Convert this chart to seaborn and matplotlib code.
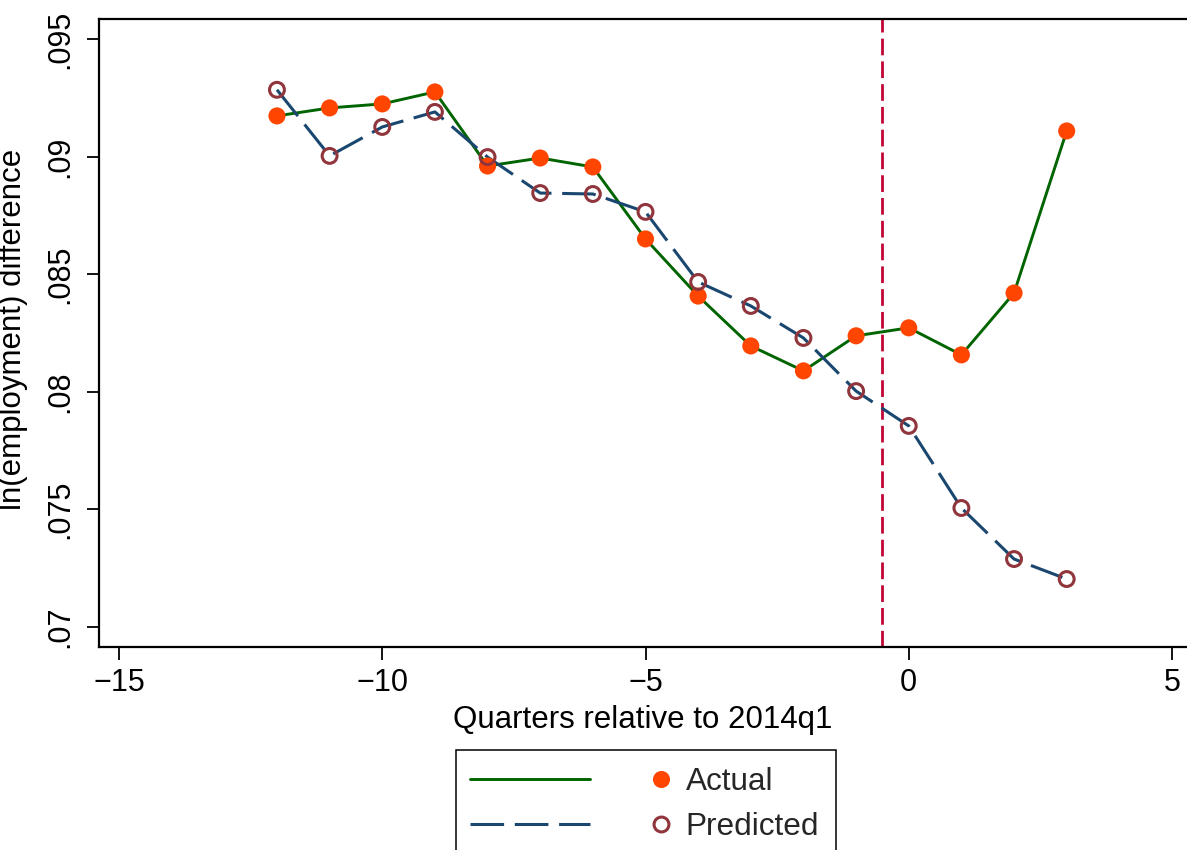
import numpy as np
import pandas as pd
import matplotlib
matplotlib.use("Agg")
import matplotlib.pyplot as plt
import seaborn as sns
from matplotlib.lines import Line2D
from matplotlib.patches import Rectangle

# quarters relative to 2014q1
quarters = [-12, -11, -10, -9, -8, -7, -6, -5, -4, -3, -2, -1, 0, 1, 2, 3]
actual = [0.09173, 0.09207, 0.09224, 0.09275, 0.08960, 0.08994, 0.08956, 0.08650,
          0.08407, 0.08195, 0.08089, 0.08238, 0.08272, 0.08157, 0.08420, 0.09109]
predicted = [0.09284, 0.09003, 0.09126, 0.09190, 0.08998, 0.08845, 0.08841, 0.08765,
             0.08467, 0.08365, 0.08229, 0.08003, 0.07855, 0.07506, 0.07289, 0.07204]
xticks = [-15, -10, -5, 0, 5]
yticks = [0.07, 0.075, 0.08, 0.085, 0.09, 0.095]
ytick_labels = [".07", ".075", ".08", ".085", ".09", ".095"]
cutoff = -0.5

df = pd.DataFrame({"q": quarters, "actual": actual, "predicted": predicted})

sns.set_theme(style="white")
plt.rcParams["font.family"] = ["Liberation Sans", "DejaVu Sans"]

green = "#006400"
navy = "#1a476f"
orange = "#ff4500"
maroon = "#90353b"
cranberry = "#c10534"

W, H = 1187, 850
fig = plt.figure(figsize=(W / 100, H / 100), dpi=100)
ax = fig.add_axes([99 / W, 1 - 647 / H, 1 - 99 / W, (647 - 19) / H])

sns.lineplot(data=df, x="q", y="actual", ax=ax, color=green, lw=2.1, zorder=2)
sns.lineplot(data=df, x="q", y="predicted", ax=ax, color=navy, lw=2.2, zorder=2)
ax.lines[-1].set_dashes([11, 3.5])
ax.scatter(df["q"], df["actual"], s=12.3 ** 2, color=orange, edgecolor="none", zorder=3)
ax.scatter(df["q"], df["predicted"], s=10.7 ** 2, facecolor="none",
           edgecolor=maroon, linewidth=2.2, zorder=4)

ax.axvline(cutoff, color=cranberry, lw=2, dashes=[6, 2.2], zorder=1)

ax.set_xlim(-15.38, 5.285)
ax.set_ylim(0.06915, 0.09585)
ax.set_xticks(xticks)
ax.set_xticklabels(["\u221215", "\u221210", "\u22125", "0", "5"])
ax.set_yticks(yticks)
ax.set_yticklabels(ytick_labels, rotation=90, va="center")

for s in ["left", "bottom", "top"]:
    ax.spines[s].set_color("black")
    ax.spines[s].set_linewidth(1.6)
ax.spines["right"].set_visible(False)

ax.tick_params(axis="both", which="major", length=9, width=1.3, color="black",
               labelsize=22, labelcolor="black", direction="out")
ax.tick_params(axis="x", pad=6)
ax.tick_params(axis="y", pad=8)
ax.tick_params(bottom=True, left=True)

ax.set_xlabel("Quarters relative to 2014q1", fontsize=22.5, color="black")
ax.set_ylabel("ln(employment) difference", fontsize=22.5, color="black")
ax.xaxis.set_label_coords(0.5, -0.092)
ax.yaxis.set_label_coords(-0.065, 0.505)

# legend: line keys in one column, marker keys with labels in the other
line_handles = [
    Line2D([], [], color=green, lw=2.1),
    Line2D([], [], color=navy, lw=2.2, dashes=[11, 3.5]),
]
marker_handles = [
    Line2D([], [], ls="none", marker="o", markersize=12.3, color=orange, markeredgecolor="none"),
    Line2D([], [], ls="none", marker="o", markersize=10.7, markerfacecolor="none",
           markeredgecolor=maroon, markeredgewidth=2.2),
]
leg_kw = dict(loc="center left", fontsize=22.7, frameon=False, labelspacing=0.45,
              borderpad=0, borderaxespad=0, handletextpad=0.4)
leg1 = fig.legend(line_handles, ["", ""], bbox_to_anchor=(470 / W, 1 - 804.5 / H),
                  handlelength=3.8, **leg_kw)
leg2 = fig.legend(marker_handles, ["Actual", "Predicted"],
                  bbox_to_anchor=(648 / W, 1 - 804.5 / H), handlelength=0.8, **leg_kw)
fig.add_artist(Rectangle((456 / W, -0.05), (836 - 456) / W, 1 - 750 / H + 0.05,
                         transform=fig.transFigure, fill=False, edgecolor="black",
                         linewidth=1.1))

fig.savefig("out.png", dpi=100)
